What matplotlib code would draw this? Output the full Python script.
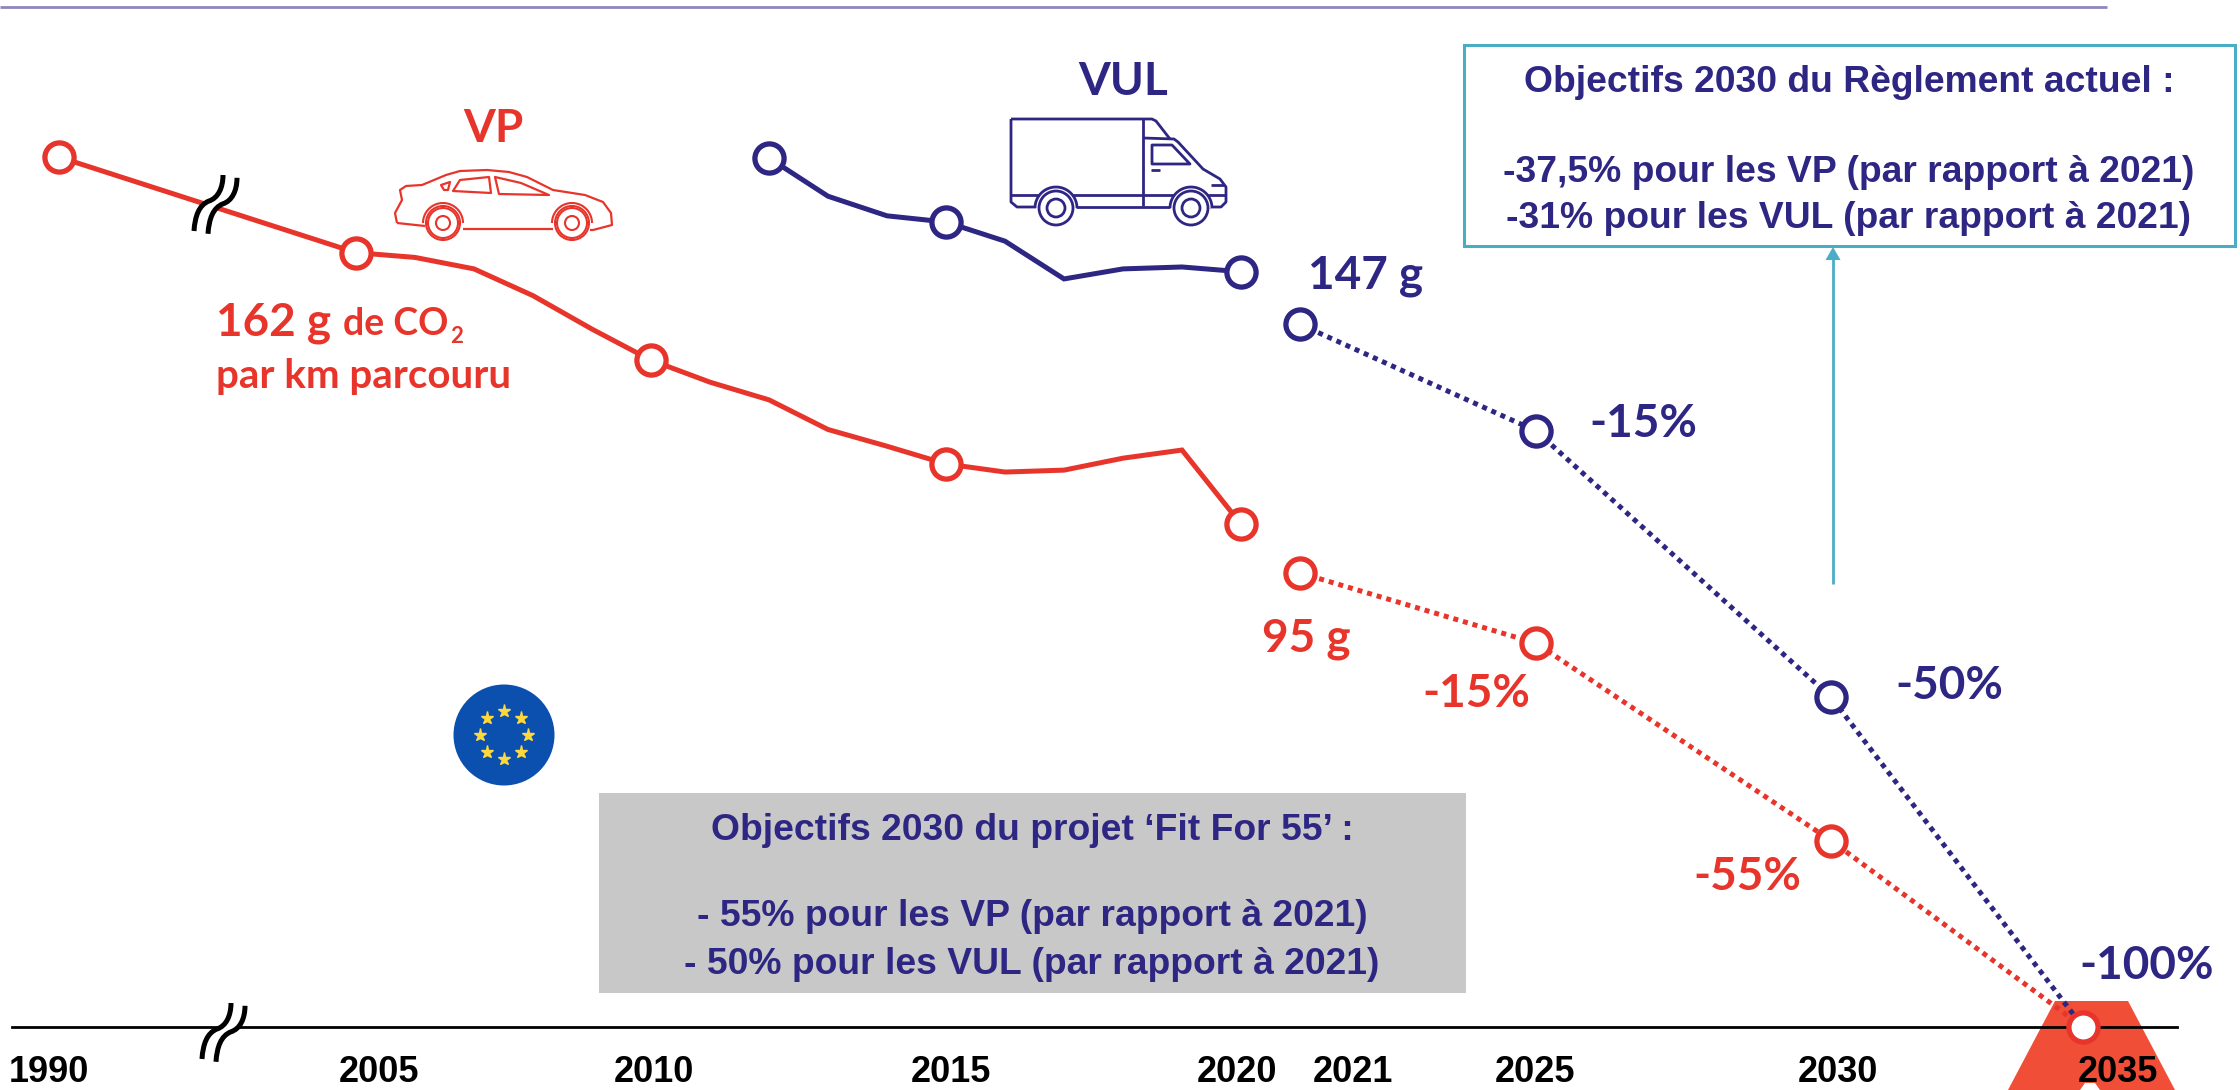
import numpy as np
from matplotlib import pyplot as plt
from matplotlib.path import Path
from matplotlib.patches import PathPatch, Polygon, Rectangle, Circle, Ellipse
from matplotlib.transforms import Affine2D

RED = "#E8352B"
NAVY = "#2E2683"
TEAL = "#4BACC6"

# values, g of CO2 per km
vp_years = [1990, 2005, 2006, 2007, 2008, 2009, 2010, 2011, 2012, 2013, 2014, 2015, 2016, 2017, 2018, 2019, 2020]
vp_values = [182, 162, 161, 158.6, 153, 146, 139.5, 134.9, 131.2, 125, 121.5, 117.8, 116.1, 116.5, 119, 120.7, 105.2]
vp_marked = [1990, 2005, 2010, 2015, 2020]

vul_years = [2012, 2013, 2014, 2015, 2016, 2017, 2018, 2019, 2020]
vul_values = [181.8, 173.8, 169.7, 168.4, 164.4, 156.5, 158.6, 159, 158]
vul_marked = [2012, 2015, 2020]

target_years = [2021, 2025, 2030, 2035]
vp_targets = [95, 80.3, 39, 0]
vul_targets = [147, 124.7, 69, 0]

tick_years = [1990, 2005, 2010, 2015, 2020, 2021, 2025, 2030, 2035]
tick_shift = [-10, 23, 3, 5, -4, 53, -1, 7, 35]

# the time axis is broken: 1990-2005 squeezed, 2030-2035 a bit shorter
year_knots = [1980, 1990, 2005, 2030, 2035, 2045]
px_knots = [-139, 59, 356, 1831, 2083, 2587]


def year_to_px(y):
    return np.interp(y, year_knots, px_knots)


def px_to_year(p):
    return np.interp(p, px_knots, year_knots)


W, H = 2240, 1090
fig = plt.figure(figsize=(W / 100, H / 100), dpi=100)
ax = fig.add_axes([12 / W, 0, (2177 - 12) / W, 1])
ax.set_xscale("function", functions=(year_to_px, px_to_year))
ax.set_xlim(px_to_year(12), px_to_year(2177))
ax.set_ylim((1027 - 1090) / 4.78, 1027 / 4.78)

# everything decorative is placed in picture pixels
px = Affine2D().scale(1 / W, -1 / H).translate(0, 1) + fig.transFigure


def polyline(points, color, lw=1.6, closed=False, zorder=3):
    p = np.array(points, dtype=float)
    patch = Polygon(p, closed=closed, fill=False, edgecolor=color, lw=lw, transform=px,
                    clip_on=False, zorder=zorder, joinstyle="round")
    ax.add_patch(patch)


def ring(cx, cy, radii, color, lw=1.6, zorder=3):
    for r in radii:
        ax.add_patch(Ellipse((cx, cy), 2 * r, 2 * r, fill=True, facecolor="white", edgecolor=color, lw=lw,
                             transform=px, clip_on=False, zorder=zorder))


def arch(cx, cy, r, color, lw=1.6, zorder=3):
    # upper half circle over a wheel, white inside
    a = np.linspace(np.pi, 2 * np.pi, 40)
    pts = np.column_stack([cx + r * np.cos(a), cy + r * np.sin(a)])
    ax.add_patch(Polygon(pts, closed=True, facecolor="white", edgecolor="none", transform=px,
                         clip_on=False, zorder=zorder))
    polyline(pts, color, lw=lw, zorder=zorder)


def label(x, y, s, color, size, family="Lato", ha="center", va="center", zorder=6):
    if va == "center":
        y = y + 3
    ax.text(x, y, s, color=color, fontsize=size, fontweight="bold", family=family, ha=ha, va=va,
            transform=px, clip_on=False, zorder=zorder)


def series(years, values, marked, color):
    ax.plot(years, values, color=color, lw=3.6, solid_joinstyle="miter", zorder=4)
    ys = [values[years.index(m)] for m in marked]
    ax.plot(marked, ys, ls="none", marker="o", ms=21, mfc="white", mec=color, mew=3.8, zorder=5)


def targets(values, color, draw_last):
    ax.plot(target_years, values, color=color, lw=3.6, ls=(0, (1, 1)), zorder=4)
    n = len(target_years) if draw_last else len(target_years) - 1
    ax.plot(target_years[:n], values[:n], ls="none", marker="o", ms=21, mfc="white", mec=color, mew=3.8, zorder=5)


def axis_break(dx, dy):
    # two S shaped strokes with white between them
    verts = [(231, 1003), (231, 1016), (226, 1026), (217, 1029), (207, 1033), (203, 1044), (202, 1059)]
    codes = [Path.MOVETO] + [Path.CURVE4] * 6
    mid = Path([(x + 7 + dx, y + 1.5 + dy) for x, y in verts], codes)
    ax.add_patch(PathPatch(mid, fill=False, edgecolor="white", lw=7, transform=px, clip_on=False, zorder=7))
    for off in (0, 14):
        path = Path([(x + off + dx, y + off * 0.2 + dy) for x, y in verts], codes)
        ax.add_patch(PathPatch(path, fill=False, edgecolor="black", lw=3.6, capstyle="butt",
                               transform=px, clip_on=False, zorder=8))


def draw_car():
    body = [(397, 223), (395, 213), (402, 200), (400, 190), (406, 186), (422, 185), (446, 175), (460, 171),
            (487, 170), (509, 172), (527, 177), (553, 190), (585, 195), (603, 202), (611, 213), (612, 225),
            (593, 230), (590, 230)]
    polyline(body, RED)
    polyline([(397, 223), (425, 226)], RED)
    polyline([(463, 229), (553, 229)], RED)
    polyline([(453, 191), (460, 180), (489, 177), (491, 193)], RED, closed=True)
    polyline([(495, 177), (521, 183), (549, 195), (499, 194)], RED, closed=True)
    polyline([(441, 185), (450, 182), (448, 190), (444, 190)], RED, closed=True)
    for cx in (443, 572):
        arch(cx, 223, 20, RED, lw=1.5)
        ring(cx, 223, [17, 15, 7], RED, lw=1.5)


def draw_truck():
    polyline([(1011, 119), (1011, 202), (1017, 207), (1036, 207)], NAVY, lw=2)
    polyline([(1011, 119), (1152, 119), (1156, 121), (1170, 139)], NAVY, lw=2)
    polyline([(1143, 119), (1143, 206)], NAVY, lw=2)
    polyline([(1143, 138), (1174, 139), (1178, 142), (1203, 169), (1220, 179), (1226, 187), (1226, 202),
              (1221, 207), (1210, 207)], NAVY, lw=2)
    polyline([(1152, 145), (1172, 145), (1190, 164), (1152, 164)], NAVY, lw=2, closed=True)
    polyline([(1151, 170), (1160, 170)], NAVY, lw=2)
    polyline([(1211, 185), (1224, 185)], NAVY, lw=2)
    polyline([(1011, 195), (1226, 195)], NAVY, lw=2)
    polyline([(1076, 207), (1170, 207)], NAVY, lw=2)
    for cx in (1056, 1191):
        arch(cx, 208, 21, NAVY, lw=2)
        ring(cx, 208, [17, 9], NAVY, lw=2)


def draw_flag():
    ax.add_patch(Circle((504, 735), 50.5, facecolor="#0B50AF", edgecolor="none", transform=px, clip_on=False, zorder=2))
    a = np.arange(8) * np.pi / 4
    ax.plot(504 + 24 * np.cos(a), 735 + 24 * np.sin(a), ls="none", marker="*", ms=9.5, mfc="#FFD83A", mec="#FFD83A",
            transform=px, clip_on=False, zorder=3)


# frame pieces
ax.spines[["top", "left", "right"]].set_visible(False)
ax.spines["bottom"].set_position(("data", 0))
ax.spines["bottom"].set_linewidth(2)
ax.spines["bottom"].set_zorder(3)
ax.yaxis.set_visible(False)
ax.patch.set_visible(False)
ax.set_xticks(tick_years)
ax.set_xticklabels([str(y) for y in tick_years], family="Liberation Sans", fontweight="bold", fontsize=26)
ax.minorticks_off()
ax.tick_params(axis="x", length=0, pad=20)
for lab, dx in zip(ax.get_xticklabels(), tick_shift):
    lab.set_transform(lab.get_transform() + Affine2D().translate(dx, 0))
    lab.set_zorder(6)

polyline([(0, 7), (2107, 7)], "#8E86BC", lw=2)

# road shape behind 2035
ax.add_patch(Polygon([(2055, 1001), (2128, 1001), (2175, 1090), (2008, 1090)], facecolor="#F04E37", edgecolor="none",
                     transform=px, clip_on=False, zorder=1))
ax.add_patch(Polygon([(2085, 1083), (2095, 1083), (2100, 1090), (2080, 1090)], facecolor="white", edgecolor="none",
                     transform=px, clip_on=False, zorder=1))

series(vp_years, vp_values, vp_marked, RED)
series(vul_years, vul_values, vul_marked, NAVY)
targets(vul_targets, NAVY, False)
targets(vp_targets, RED, True)

axis_break(0, 0)
axis_break(-8, -828)
draw_car()
draw_truck()
draw_flag()

label(493, 126, "VP", RED, 33)
label(1123, 79, "VUL", NAVY, 33)
label(216, 335, "162 g", RED, 33, ha="left", va="baseline")
label(343, 335, "de CO", RED, 27, ha="left", va="baseline")
label(450, 343, "2", RED, 16, ha="left", va="baseline")
label(216, 388, "par km parcouru", RED, 29, ha="left", va="baseline")
label(1366, 273, "147 g", NAVY, 33)
label(1643, 421, "-15%", NAVY, 33)
label(1949, 683, "-50%", NAVY, 33)
label(2147, 963, "-100%", NAVY, 33)
label(1306, 636, "95 g", RED, 33)
label(1476, 691, "-15%", RED, 33)
label(1747, 874, "-55%", RED, 33)

# the two text boxes
ax.add_patch(Rectangle((599, 793), 867, 200, facecolor="#C8C8C8", edgecolor="none", transform=px, clip_on=False, zorder=2))
label(1032, 827, "Objectifs 2030 du projet ‘Fit For 55’ :", NAVY, 26.8, family="Liberation Sans")
label(1032, 914, "- 55% pour les VP (par rapport à 2021)", NAVY, 26.8, family="Liberation Sans")
label(1032, 961, "- 50% pour les VUL (par rapport à 2021)", NAVY, 26.8, family="Liberation Sans")

ax.add_patch(Rectangle((1464, 45), 771, 201, facecolor="white", edgecolor=TEAL, lw=2.2, transform=px, clip_on=False, zorder=2))
label(1849, 80, "Objectifs 2030 du Règlement actuel :", NAVY, 26.8, family="Liberation Sans")
label(1849, 170, "-37,5% pour les VP (par rapport à 2021)", NAVY, 26.8, family="Liberation Sans")
label(1849, 215, "-31% pour les VUL (par rapport à 2021)", NAVY, 26.8, family="Liberation Sans")
polyline([(1833, 584), (1833, 258)], TEAL, lw=2)
ax.add_patch(Polygon([(1833, 247), (1825.5, 260), (1840.5, 260)], facecolor=TEAL, edgecolor="none", transform=px,
                     clip_on=False, zorder=3))

fig.savefig("out.png", dpi=100)
